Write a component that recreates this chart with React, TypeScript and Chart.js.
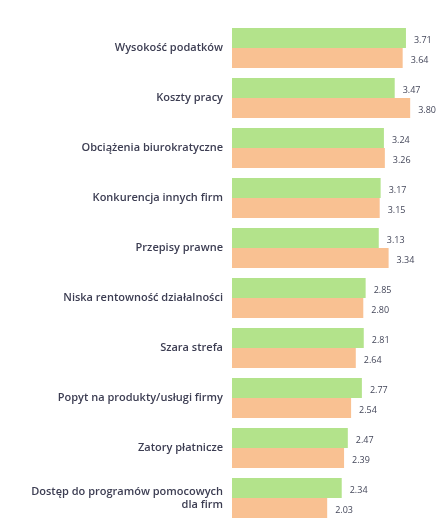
import React, { useEffect, useRef } from "react";
import { Chart, registerables } from "chart.js";

Chart.register(...registerables);

const categories: (string | string[])[] = [
  "Wysokość podatków",
  "Koszty pracy",
  "Obciążenia biurokratyczne",
  "Konkurencja innych firm",
  "Przepisy prawne",
  "Niska rentowność działalności",
  "Szara strefa",
  "Popyt na produkty/usługi firmy",
  "Zatory płatnicze",
  ["Dostęp do programów pomocowych", "dla firm"],
];

const seriesGreen = [3.71, 3.47, 3.24, 3.17, 3.13, 2.85, 2.81, 2.77, 2.47, 2.34];
const seriesOrange = [3.64, 3.8, 3.26, 3.15, 3.34, 2.8, 2.64, 2.54, 2.39, 2.03];

const valueLabelPlugin = {
  id: "valueLabels",
  afterDatasetsDraw(chart: any) {
    const ctx = chart.ctx;
    ctx.save();
    ctx.font = "9px 'Open Sans'";
    ctx.fillStyle = "#44475a";
    ctx.textAlign = "left";
    ctx.textBaseline = "middle";
    chart.data.datasets.forEach((ds: any, di: number) => {
      const meta = chart.getDatasetMeta(di);
      meta.data.forEach((bar: any, i: number) => {
        const v = ds.data[i] as number;
        ctx.fillText(v.toFixed(2), bar.x + 8, bar.y + 2);
      });
    });
    ctx.restore();
  },
};

export default function App() {
  const ref = useRef<HTMLCanvasElement | null>(null);
  useEffect(() => {
    if (!ref.current) return;
    const chart = new Chart(ref.current, {
      type: "bar",
      data: {
        labels: categories,
        datasets: [
          {
            data: seriesGreen,
            backgroundColor: "#b3e38b",
            categoryPercentage: 0.8,
            barPercentage: 1.0,
          },
          {
            data: seriesOrange,
            backgroundColor: "#f9c192",
            categoryPercentage: 0.8,
            barPercentage: 1.0,
          },
        ],
      },
      options: {
        indexAxis: "y",
        animation: false,
        responsive: false,
        maintainAspectRatio: false,
        layout: { padding: { top: 23, bottom: 0, left: 0, right: 5 } },
        plugins: { legend: { display: false }, tooltip: { enabled: false } },
        scales: {
          x: { display: false, min: 0, max: 4.5 },
          y: {
            grid: { display: false, drawTicks: false },
            border: { display: false },
            ticks: {
              padding: 9,
              color: "#3c3d52",
              font: { family: "'Open Sans'", size: 11, weight: 600 },
            },
            afterFit(scale: any) {
              scale.width = 232;
              scale.paddingTop = 0;
              scale.paddingBottom = 0;
            },
          },
        },
      },
      plugins: [valueLabelPlugin],
    });
    return () => chart.destroy();
  }, []);
  return (
    <div style={{ position: "absolute", left: 0, top: 0, width: 448, height: 523, background: "#fff" }}>
      <canvas ref={ref} width={448} height={523} style={{ display: "block" }} />
    </div>
  );
}
